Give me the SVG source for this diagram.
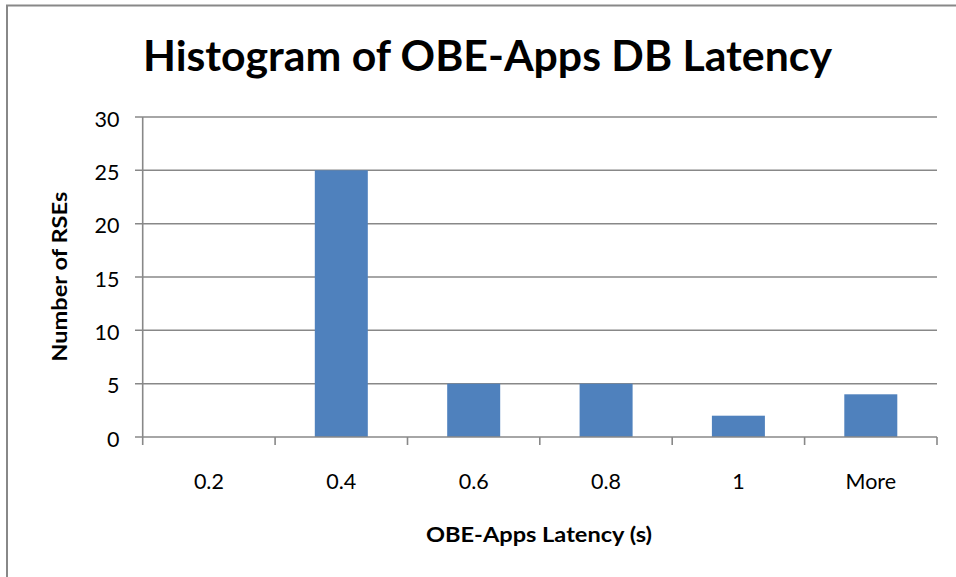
<svg xmlns="http://www.w3.org/2000/svg" width="956" height="577" viewBox="0 0 956 577">
  <style>
    .frame { stroke: #888888; stroke-width: 2; fill: none; }
    .grid { stroke: #888888; stroke-width: 1.4; fill: none; }
    .axis { stroke: #888888; stroke-width: 1.6; fill: none; }
    .bar { fill: #4F81BD; }
    text { font-family: Lato, "Open Sans", "Liberation Sans", sans-serif; fill: #000000; }
    .title { font-size: 42px; font-weight: bold; }
    .axtitle { font-size: 21px; font-weight: bold; }
    .tick { font-size: 21.5px; }
    .ylab { text-anchor: end; }
    .xlab { text-anchor: middle; }
  </style>
  <rect x="0" y="0" width="956" height="577" fill="#ffffff"/>
  <!-- chart frame (top and left edges visible) -->
  <g id="frame">
    <line class="frame" x1="6" y1="5.5" x2="956" y2="5.5"/>
    <line class="frame" x1="7" y1="5" x2="7" y2="577"/>
  </g>

  <g id="title">
    <text class="title" x="143" y="71" textLength="689" lengthAdjust="spacingAndGlyphs">Histogram of OBE-Apps DB Latency</text>
  </g>

  <!-- horizontal gridlines with left tick marks -->
  <g id="gridlines">
    <line class="grid" x1="135" y1="117" x2="937" y2="117"/>
    <line class="grid" x1="135" y1="170.3" x2="937" y2="170.3"/>
    <line class="grid" x1="135" y1="223.7" x2="937" y2="223.7"/>
    <line class="grid" x1="135" y1="277" x2="937" y2="277"/>
    <line class="grid" x1="135" y1="330.3" x2="937" y2="330.3"/>
    <line class="grid" x1="135" y1="383.7" x2="937" y2="383.7"/>
  </g>

  <!-- bars -->
  <g id="bars">
    <rect id="bar-0.2" class="bar" x="182.4" y="437" width="53" height="0"/>
    <rect id="bar-0.4" class="bar" x="314.8" y="170.3" width="53" height="266.7"/>
    <rect id="bar-0.6" class="bar" x="447.2" y="383.7" width="53" height="53.3"/>
    <rect id="bar-0.8" class="bar" x="579.6" y="383.7" width="53" height="53.3"/>
    <rect id="bar-1" class="bar" x="711.9" y="415.7" width="53" height="21.3"/>
    <rect id="bar-more" class="bar" x="844.3" y="394.3" width="53" height="42.7"/>
  </g>

  <!-- axes -->
  <g id="axes">
    <line class="axis" x1="142.7" y1="117" x2="142.7" y2="445"/>
    <line class="axis" x1="135" y1="437" x2="937" y2="437"/>
    <line class="axis" x1="275.1" y1="437" x2="275.1" y2="445"/>
    <line class="axis" x1="407.5" y1="437" x2="407.5" y2="445"/>
    <line class="axis" x1="539.8" y1="437" x2="539.8" y2="445"/>
    <line class="axis" x1="672.2" y1="437" x2="672.2" y2="445"/>
    <line class="axis" x1="804.6" y1="437" x2="804.6" y2="445"/>
    <line class="axis" x1="937" y1="437" x2="937" y2="445"/>
  </g>

  <g id="y-labels">
    <text class="tick ylab" x="119.5" y="126.7">30</text>
    <text class="tick ylab" x="119.5" y="180">25</text>
    <text class="tick ylab" x="119.5" y="233.4">20</text>
    <text class="tick ylab" x="119.5" y="286.7">15</text>
    <text class="tick ylab" x="119.5" y="340">10</text>
    <text class="tick ylab" x="119.5" y="393.4">5</text>
    <text class="tick ylab" x="119.5" y="446.7">0</text>
  </g>

  <g id="x-labels">
    <text class="tick xlab" x="208.9" y="488.5">0.2</text>
    <text class="tick xlab" x="341.3" y="488.5">0.4</text>
    <text class="tick xlab" x="473.7" y="488.5">0.6</text>
    <text class="tick xlab" x="606" y="488.5">0.8</text>
    <text class="tick xlab" x="738.4" y="488.5">1</text>
    <text class="tick xlab" x="870.8" y="488.5">More</text>
  </g>

  <g id="axis-titles">
    <text class="axtitle" x="539" y="541.7" text-anchor="middle" textLength="226" lengthAdjust="spacingAndGlyphs">OBE-Apps Latency (s)</text>
    <text class="axtitle" transform="translate(66.5,276.7) rotate(-90)" x="0" y="0" text-anchor="middle" textLength="170" lengthAdjust="spacingAndGlyphs">Number of RSEs</text>
  </g>
</svg>
